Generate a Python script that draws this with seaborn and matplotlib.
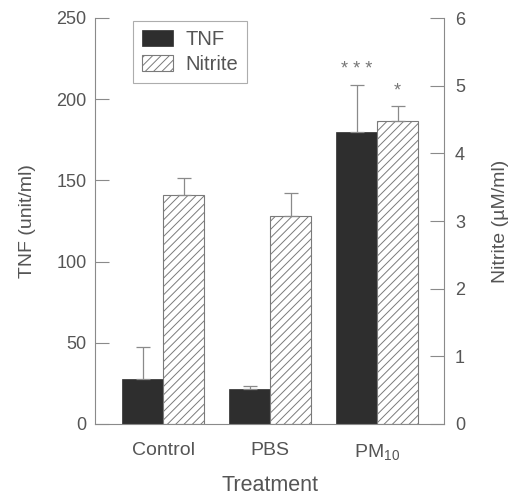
import matplotlib
matplotlib.use("Agg")
import matplotlib.pyplot as plt
import seaborn as sns
import pandas as pd
import numpy as np

# ---- data ----
treatments = ["Control", "PBS", "PM$_{10}$"]
tnf_values = [27.7, 21.4, 180.0]        # unit/ml
tnf_err = [20.0, 2.0, 29.0]
nitrite_values = [3.38, 3.08, 4.48]     # uM/ml
nitrite_err = [0.26, 0.34, 0.22]
series = ["TNF", "Nitrite"]
tnf_ticks = [0, 50, 100, 150, 200, 250]
nitrite_ticks = [0, 1, 2, 3, 4, 5, 6]
annotations = ["* * *", "*"]  # over PM10 TNF and PM10 Nitrite

TNF_MAX = 250
NIT_MAX = 6
scale = TNF_MAX / NIT_MAX

sns.set_style("white")
plt.rcParams["font.family"] = ["Liberation Sans", "DejaVu Sans"]
plt.rcParams["mathtext.fontset"] = "custom"
plt.rcParams["mathtext.rm"] = "Liberation Sans"
plt.rcParams["mathtext.it"] = "Liberation Sans:italic"
plt.rcParams["hatch.linewidth"] = 0.7

TXT = "#555555"
LINE = "#8a8a8a"

df = pd.DataFrame({
    "Treatment": treatments * 2,
    "Series": ["TNF"] * 3 + ["Nitrite"] * 3,
    "Value": tnf_values + [v * scale for v in nitrite_values],
})

fig = plt.figure(figsize=(5.12, 4.95), dpi=100)
ax = fig.add_axes([95 / 512, 1 - 424 / 495, 349 / 512, 406 / 495])

sns.barplot(data=df, x="Treatment", y="Value", hue="Series", hue_order=series,
            order=treatments, palette={"TNF": "#2e2e2e", "Nitrite": "white"},
            width=0.766, errorbar=None, legend=False, ax=ax, saturation=1)

tnf_bars = ax.containers[0]
nit_bars = ax.containers[1]
for b in tnf_bars:
    b.set_edgecolor("#2e2e2e")
    b.set_linewidth(0.5)
for b in nit_bars:
    b.set_hatch("////")
    b.set_edgecolor("#7a7a7a")
    b.set_linewidth(0.8)

# error bars (upper only)
for bars, vals, errs, sc in [(tnf_bars, tnf_values, tnf_err, 1.0),
                             (nit_bars, nitrite_values, nitrite_err, scale)]:
    xs = [b.get_x() + b.get_width() / 2 for b in bars]
    ys = [v * sc for v in vals]
    e = [v * sc for v in errs]
    ax.errorbar(xs, ys, yerr=[np.zeros(len(e)), e], fmt="none",
                ecolor=LINE, elinewidth=0.9, capsize=4.7, capthick=0.9, zorder=1)

# significance stars
for bars, vals, errs, sc, txt in [(tnf_bars, tnf_values, tnf_err, 1.0, annotations[0]),
                                  (nit_bars, nitrite_values, nitrite_err, scale, annotations[1])]:
    b = bars[2]
    x = b.get_x() + b.get_width() / 2
    y = (vals[2] + errs[2]) * sc
    ax.annotate(txt, (x, y), xytext=(0, 5), textcoords="offset points",
                ha="center", va="bottom", fontsize=13, color="#777777")

ax.set_xlim(-0.636, 2.626)
ax.set_ylim(0, TNF_MAX)
ax.set_yticks(tnf_ticks)
ax.set_xlabel("Treatment", fontsize=15.5, color=TXT, labelpad=9)
ax.set_ylabel("TNF (unit/ml)", fontsize=14, color=TXT, labelpad=15)
ax.tick_params(axis="y", direction="in", length=10, width=0.8, color=LINE,
               labelsize=13, labelcolor=TXT, pad=6, left=True)
ax.tick_params(axis="x", length=0, labelsize=14, labelcolor=TXT, pad=13)

for s in ["left", "bottom"]:
    ax.spines[s].set_color(LINE)
    ax.spines[s].set_linewidth(0.8)
ax.spines["top"].set_visible(False)
ax.spines["right"].set_visible(False)

ax2 = ax.twinx()
ax2.set_ylim(0, NIT_MAX)
ax2.set_yticks(nitrite_ticks)
ax2.set_ylabel("Nitrite (µM/ml)", fontsize=14, color=TXT, labelpad=19)
ax2.tick_params(axis="y", direction="in", length=10, width=0.8, color=LINE,
                labelsize=13, labelcolor=TXT, pad=8, right=True)
for s in ["top", "left", "bottom"]:
    ax2.spines[s].set_visible(False)
ax2.spines["right"].set_color(LINE)
ax2.spines["right"].set_linewidth(0.8)

leg = ax.legend([tnf_bars[0], nit_bars[0]], series, loc="upper left",
                bbox_to_anchor=(0.109, 0.993), borderaxespad=0, fontsize=14.5,
                frameon=True, fancybox=False, edgecolor="#999999",
                handlelength=1.55, handleheight=0.85, handletextpad=0.6,
                labelspacing=0.3, borderpad=0.45)
leg.get_frame().set_linewidth(0.8)
for t in leg.get_texts():
    t.set_color(TXT)

fig.savefig("out.png", dpi=100)
